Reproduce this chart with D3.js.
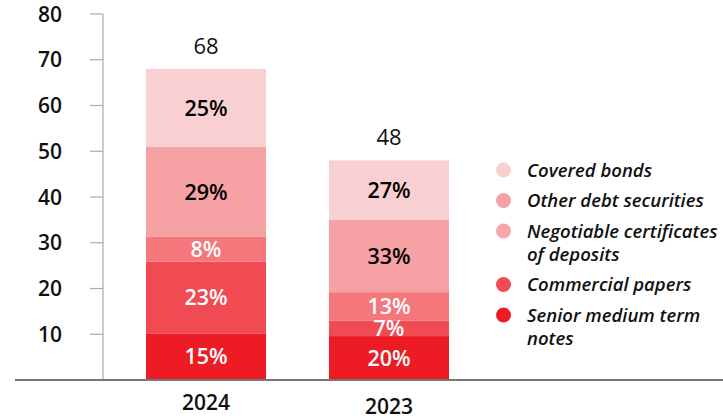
<!DOCTYPE html>
<html>
<head>
<meta charset="utf-8">
<script src="https://cdn.jsdelivr.net/npm/d3@7"></script>
<style>
  body { margin: 0; background: #fff; }
  svg text { font-family: "Open Sans", sans-serif; }
</style>
</head>
<body>
<svg id="chart" width="723" height="420"></svg>
<script>
// years on the x axis, and the total for each bar
var years = ["2024", "2023"];
var totals = [68, 48];

// series, bottom to top of the stack
var series = ["Senior medium term notes", "Commercial papers", "Negotiable certificates of deposits",
              "Other debt securities", "Covered bonds"];
var pct2024 = [15, 23, 8, 29, 25];
var pct2023 = [20, 7, 13, 33, 27];
var barColors = ["#ed1c24", "#f04b53", "#f4777b", "#f6a2a5", "#f9d0d2"];
var labelColors = ["#fff", "#fff", "#fff", "#000", "#000"];

// legend, top to bottom (as printed, broken into lines)
var legendLines = [["Covered bonds"], ["Other debt securities"], ["Negotiable certificates", "of deposits"],
                   ["Commercial papers"], ["Senior medium term", "notes"]];
var legendColors = ["#f9d0d2", "#f6a2a5", "#f6a5a8", "#f04b53", "#ed1c24"];

var yTicks = [10, 20, 30, 40, 50, 60, 70, 80];

var svg = d3.select("#chart");

var y = d3.scaleLinear().domain([0, 80]).range([380, 14]);
var x = d3.scaleBand().domain(years).range([146, 449]).paddingInner(0.344).paddingOuter(0);
var axisX = 103;

// build stacked rows: one per year
var pcts = [pct2024, pct2023];
var rows = years.map(function(yr, i) {
    var r = {year: yr};
    series.forEach(function(s, k) { r[s] = totals[i] * pcts[i][k] / 100; });
    return r;
});
var stacked = d3.stack().keys(series)(rows);

// y axis
var yAxis = svg.append("g").attr("transform", "translate(" + axisX + ",0)");
yAxis.append("line")
    .attr("x1", 0).attr("x2", 0)
    .attr("y1", y(80)).attr("y2", y(0))
    .attr("stroke", "#aaa").attr("stroke-width", 1.2);
yAxis.selectAll(".tick")
    .data(yTicks)
    .enter().append("line")
    .attr("x1", -13).attr("x2", 0)
    .attr("y1", function(d) { return y(d); })
    .attr("y2", function(d) { return y(d); })
    .attr("stroke", "#aaa").attr("stroke-width", 1.2);
yAxis.selectAll(".tlabel")
    .data(yTicks)
    .enter().append("text")
    .attr("x", -41)
    .attr("y", function(d) { return y(d); })
    .attr("dy", "0.36em")
    .attr("text-anchor", "end")
    .style("font-size", "21px")
    .style("font-weight", 600)
    .attr("fill", "#111")
    .text(function(d) { return d; });

// bars
var layer = svg.append("g").selectAll("g")
    .data(stacked)
    .enter().append("g")
    .attr("fill", function(d, i) { return barColors[i]; });

layer.selectAll("rect")
    .data(function(d) { return d; })
    .enter().append("rect")
    .attr("x", function(d) { return x(d.data.year); })
    .attr("width", x.bandwidth())
    .attr("y", function(d) { return y(d[1]); })
    .attr("height", function(d) { return y(d[0]) - y(d[1]); });

// percent labels
stacked.forEach(function(s, k) {
    svg.append("g").selectAll("text")
        .data(s)
        .enter().append("text")
        .attr("x", function(d) { return x(d.data.year) + x.bandwidth() / 2; })
        .attr("y", function(d) { return (y(d[0]) + y(d[1])) / 2; })
        .attr("dy", "0.36em")
        .attr("text-anchor", "middle")
        .style("font-size", "21.5px")
        .style("font-weight", 600)
        .attr("fill", labelColors[k])
        .text(function(d, i) { return pcts[i][k] + "%"; });
});

// totals above bars
svg.append("g").selectAll("text")
    .data(years)
    .enter().append("text")
    .attr("x", function(d) { return x(d) + x.bandwidth() / 2; })
    .attr("y", function(d, i) { return y(totals[i]) - 23; })
    .attr("dy", "0.36em")
    .attr("text-anchor", "middle")
    .style("font-size", "22px")
    .style("font-weight", 500)
    .attr("fill", "#111")
    .text(function(d, i) { return totals[i]; });

// baseline
svg.append("line")
    .attr("x1", 15).attr("x2", 723)
    .attr("y1", y(0)).attr("y2", y(0))
    .attr("stroke", "#777").attr("stroke-width", 2);

// year labels
svg.append("g").selectAll("text")
    .data(years)
    .enter().append("text")
    .attr("x", function(d) { return x(d) + x.bandwidth() / 2; })
    .attr("y", function(d, i) { return y(0) + 22 + i * 4; })
    .attr("dy", "0.36em")
    .attr("text-anchor", "middle")
    .style("font-size", "21px")
    .style("font-weight", 600)
    .attr("fill", "#111")
    .text(function(d) { return d; });

// legend
var ly = 170;
legendLines.forEach(function(lines, i) {
    var g = svg.append("g").attr("transform", "translate(503.5," + ly + ")");
    g.append("circle").attr("r", 7.5).attr("fill", legendColors[i]);
    g.selectAll("text")
        .data(lines)
        .enter().append("text")
        .attr("x", 23.5)
        .attr("y", function(d, j) { return j * 23; })
        .attr("dy", "0.36em")
        .style("font-size", "18.5px")
        .style("font-style", "italic")
        .style("font-weight", 600)
        .attr("fill", "#111")
        .text(function(d) { return d; });
    ly += lines.length * 23 + 7.5;
});
</script>
</body>
</html>
